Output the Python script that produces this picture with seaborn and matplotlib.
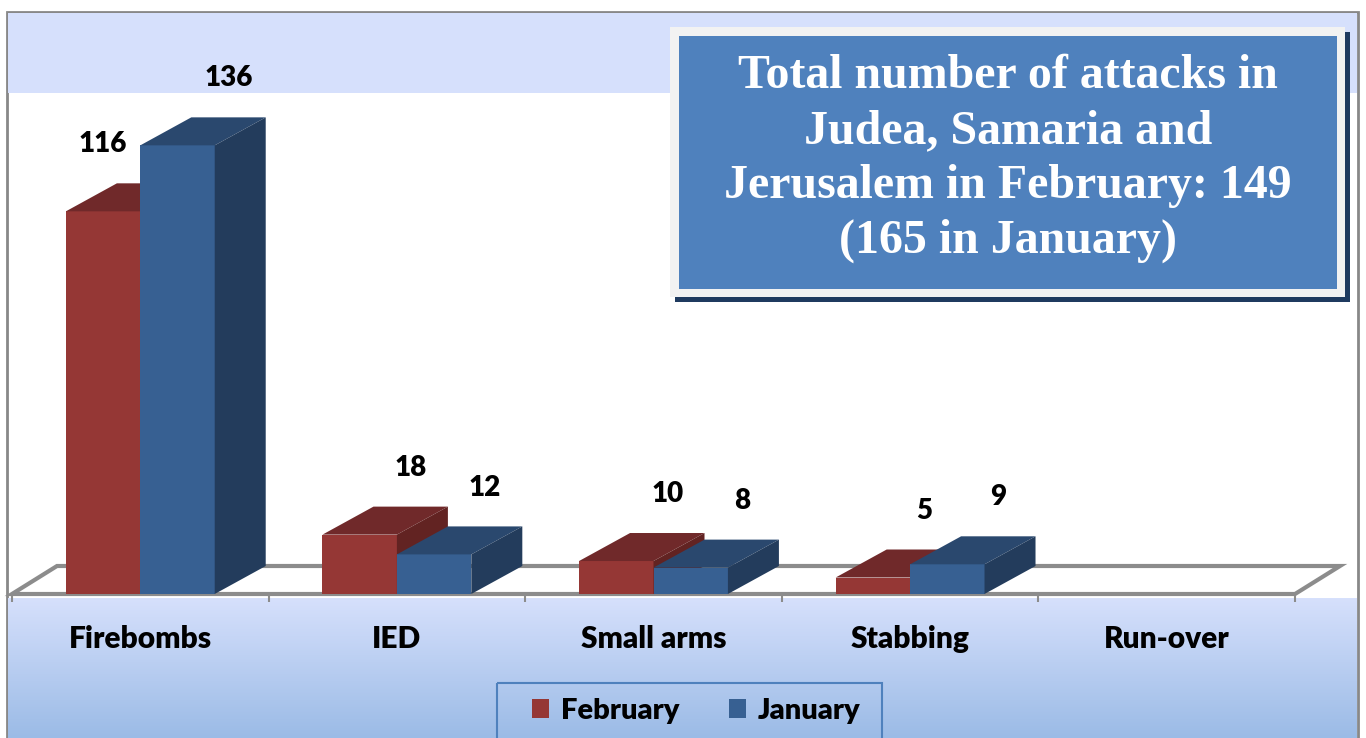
import matplotlib
matplotlib.use("Agg")
import matplotlib.pyplot as plt
import numpy as np
import pandas as pd
import seaborn as sns
from matplotlib.patches import Patch, Polygon, Rectangle

categories = ["Firebombs", "IED", "Small arms", "Stabbing", "Run-over"]
months = ["February", "January"]
february = [116, 18, 10, 5, np.nan]
january = [136, 12, 8, 9, np.nan]
title_lines = [
    "Total number of attacks in",
    "Judea, Samaria and",
    "Jerusalem in February: 149",
    "(165 in January)",
]

FRONT = {"February": "#953735", "January": "#376092"}
TOP = {"February": "#70292a", "January": "#2a486e"}
SIDE = {"February": "#622322", "January": "#233c5c"}

W, H = 1366, 738
SANS = "Lato"


def build_frame():
    rows = []
    for cat, feb, jan in zip(categories, february, january):
        rows.append({"type": cat, "month": "February", "count": feb})
        rows.append({"type": cat, "month": "January", "count": jan})
    return pd.DataFrame(rows).dropna()


def draw_background(fig):
    bg = fig.add_axes([0, 0, 1, 1], zorder=-1)
    bg.axis("off")
    bg.add_patch(Rectangle((7, 12), 1351, 730, facecolor="white",
                           edgecolor="#888888", lw=2))
    bg.add_patch(Rectangle((8, 13), 1349, 80, facecolor="#d6e0fc", lw=0))
    top = np.array([214, 224, 252]) / 255
    bottom = np.array([155, 187, 230]) / 255
    t = np.linspace(0, 1, 140)[:, None, None]
    grad = top * (1 - t) + bottom * t
    bg.imshow(grad, extent=(8, 1357, 738, 598), aspect="auto", zorder=1)
    bg.set_xlim(0, W)
    bg.set_ylim(H, 0)

    # title box
    bg.add_patch(Rectangle((675, 32), 675, 270, facecolor="#1f3a5f", lw=0, zorder=2))
    bg.add_patch(Rectangle((670, 27), 675, 270, facecolor="#f2f2f2", lw=0, zorder=3))
    bg.add_patch(Rectangle((679, 36), 658, 253, facecolor="#4f81bd", lw=0, zorder=4))
    for i, line in enumerate(title_lines):
        bg.text(1008, 76 + 55 * i, line, ha="center", va="center", color="white",
                family="Liberation Serif", fontweight="bold", fontsize=34.5, zorder=5)

    # legend frame
    bg.add_patch(Rectangle((497, 683), 385, 58, facecolor="none",
                           edgecolor="#4f81bd", lw=1.5, zorder=2))


def draw_chart(fig, data):
    ax = fig.add_axes([12 / W, (H - 594) / H, 1283 / W, 574 / H])
    ax.set_facecolor("none")
    sns.barplot(data=data, x="type", y="count", hue="month", order=categories,
                hue_order=months, palette=FRONT, width=0.58, saturation=1,
                legend=False, ax=ax)
    ax.set_xlim(-0.5, 4.5)
    ax.set_ylim(0, 174)

    px_x = 1283 / 5
    px_y = 574 / 174
    dx, dy = 51 / px_x, 28 / px_y
    floor_dx = 45 / px_x

    floor = Polygon([(-0.5, 0), (4.5, 0), (4.5 + floor_dx, dy), (-0.5 + floor_dx, dy)],
                    closed=True, facecolor="white", edgecolor="#8c8c8c", lw=3,
                    clip_on=False, zorder=1)
    ax.add_patch(floor)

    for z, (month, container) in enumerate(zip(months, ax.containers)):
        for bar in container:
            h = bar.get_height()
            if not np.isfinite(h):
                continue
            x0 = bar.get_x()
            x1 = x0 + bar.get_width()
            bar.set_zorder(2 + z)
            bar.set_edgecolor("none")
            ax.add_patch(Polygon([(x0, h), (x1, h), (x1 + dx, h + dy), (x0 + dx, h + dy)],
                                 facecolor=TOP[month], lw=0, zorder=2 + z, clip_on=False))
            ax.add_patch(Polygon([(x1, 0), (x1 + dx, dy), (x1 + dx, h + dy), (x1, h)],
                                 facecolor=SIDE[month], lw=0, zorder=2 + z, clip_on=False))
            idx = int(round((x0 + x1) / 2 + (0.145 if month == "February" else -0.145)))
            lx = (x0 + x1) / 2 + dx
            if month == "February":
                other = january[idx]
                if np.isfinite(other) and other - h > 10:
                    lx = (x0 + x1) / 2
            ax.annotate(f"{int(h)}", (lx, h + dy), xytext=(0, 28),
                        textcoords="offset points", ha="center", va="center",
                        family=SANS, fontweight="heavy", fontsize=20, zorder=6,
                        annotation_clip=False)

    for s in ax.spines.values():
        s.set_visible(False)
    ax.set_yticks([])
    ax.set_xticks(range(len(categories)))
    ax.set_xticklabels(categories, family=SANS, fontweight="heavy", fontsize=21.5)
    ax.set_xticks(np.arange(-0.5, 5, 1), minor=True)
    ax.tick_params(axis="x", which="major", length=0, pad=22)
    ax.tick_params(axis="x", which="minor", length=6, width=1.5, color="#8c8c8c")
    ax.set_xlabel("")
    ax.set_ylabel("")
    return ax


def main():
    data = build_frame()
    fig = plt.figure(figsize=(W / 100, H / 100), dpi=100)
    draw_background(fig)
    draw_chart(fig, data)

    handles = [Patch(facecolor=FRONT[m], edgecolor="none") for m in months]
    fig.legend(handles, months, loc="center",
               bbox_to_anchor=(696 / W, 1 - 711 / H), ncol=2, frameon=False,
               handlelength=0.6, handleheight=0.6, handletextpad=0.4,
               columnspacing=1.7,
               prop={"family": SANS, "weight": "heavy", "size": 21})

    fig.savefig("out.png", dpi=100)
    plt.close(fig)


if __name__ == "__main__":
    main()
